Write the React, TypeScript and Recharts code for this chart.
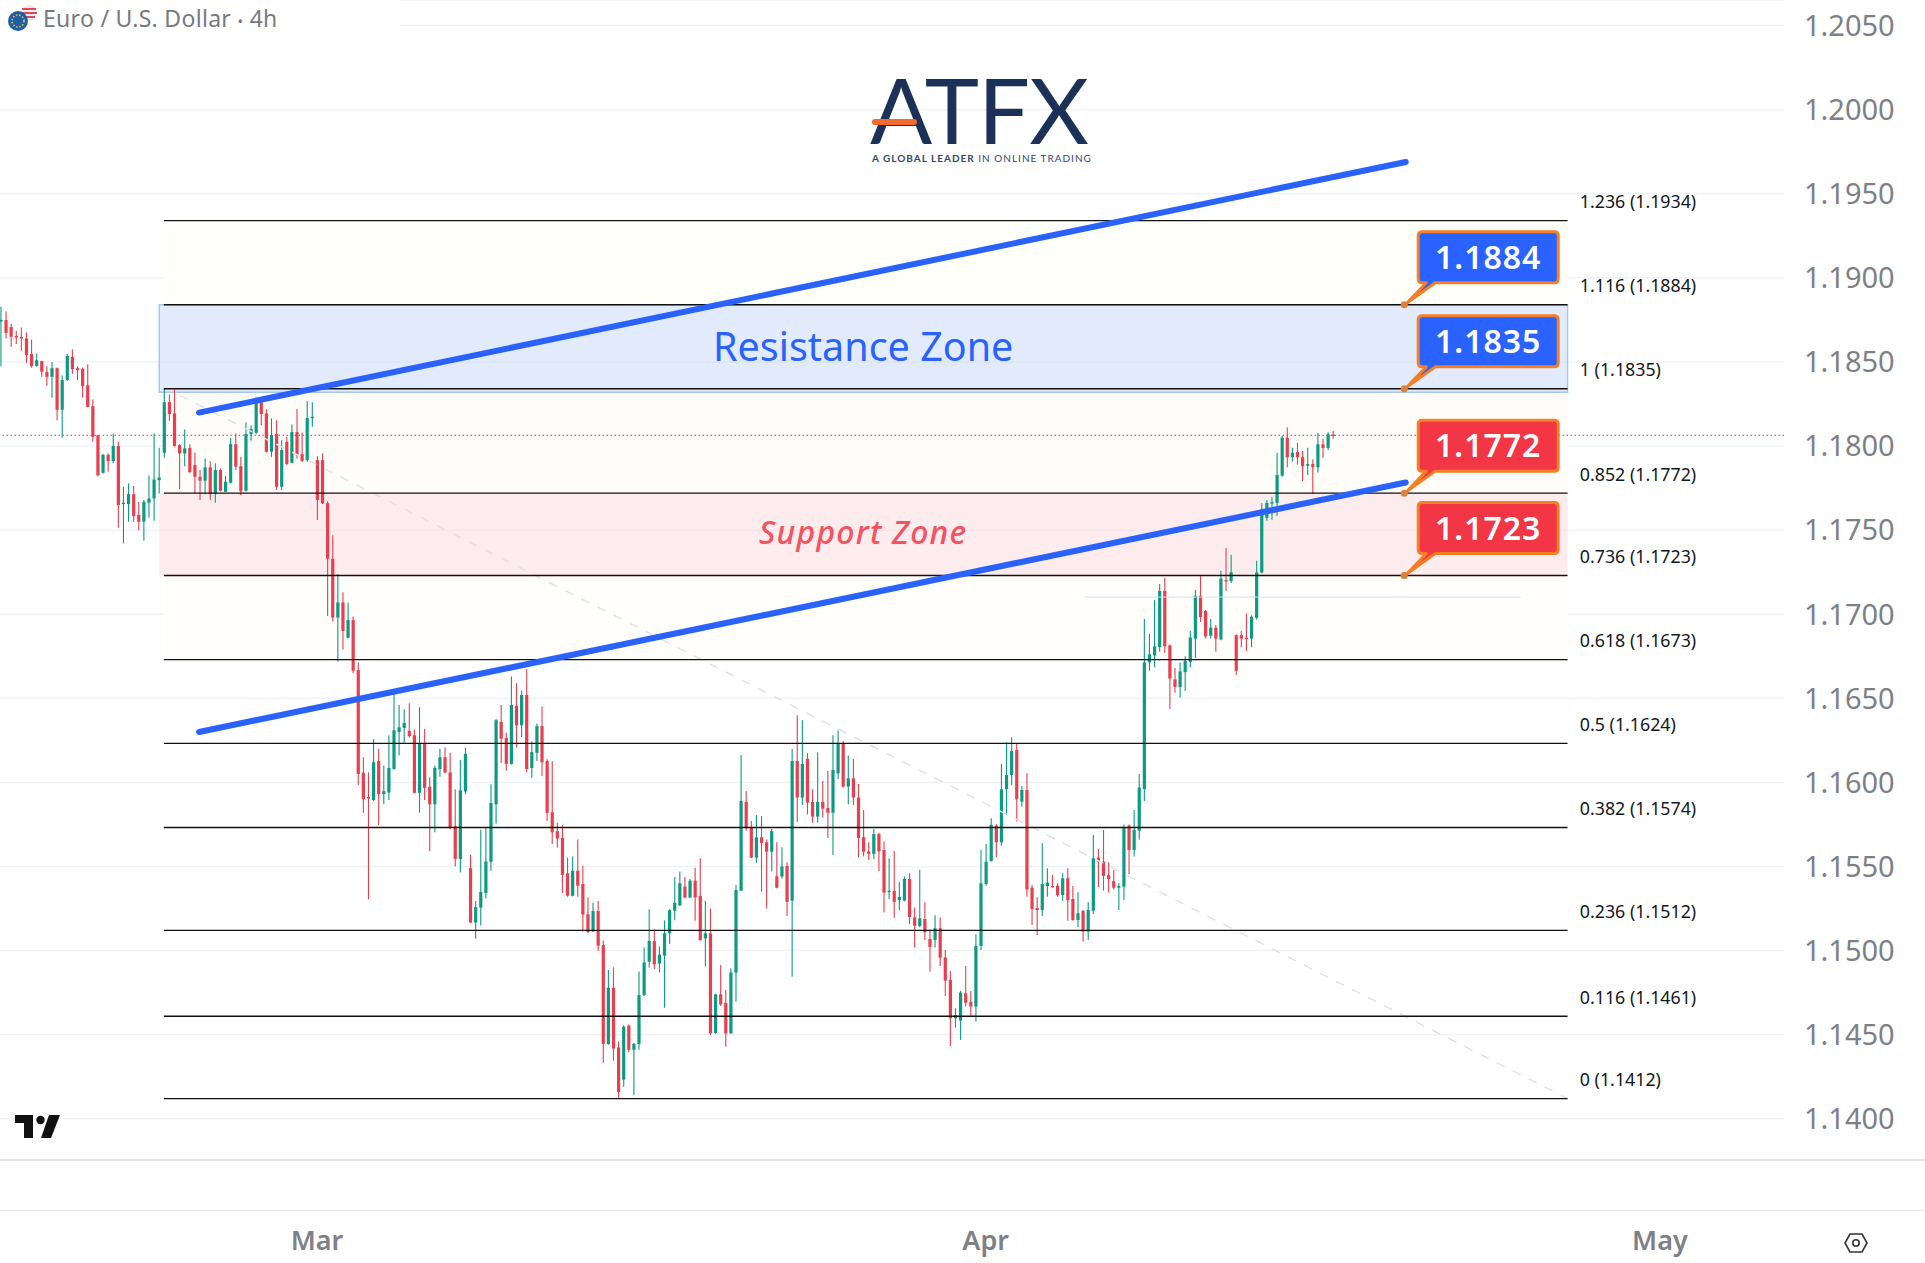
import React from 'react';
import { Bar, CartesianGrid, ComposedChart, ReferenceArea, ReferenceDot, ReferenceLine, XAxis, YAxis } from 'recharts';

// all prices below are in 1/10000 (pips)
const opens = [
  11874, 11874.9, 11870.7, 11865.4, 11864.8, 11864, 11854.7, 11847.7, 11850.5, 11844,
  11841.2, 11846.3, 11821.6, 11839.2, 11853, 11846.3, 11845.9, 11836.2, 11823.7, 11806.3,
  11784.1, 11794.8, 11791, 11800, 11765.5, 11765.5, 11771.4, 11759.1, 11755, 11766.3,
  11768.8, 11779.7, 11796, 11826.1, 11819.4, 11800.6, 11795.6, 11798.8, 11788.7, 11781.7,
  11779.4, 11787.3, 11771.4, 11785.7, 11772.8, 11778.2, 11801.1, 11788, 11773.4, 11807.1,
  11807.9, 11827.3, 11819.4, 11796.6, 11807.1, 11775.8, 11802.5, 11790, 11808.3, 11795.2,
  11791.6, 11816.6, 11791.6, 11791.6,
  11766, 11733, 11698, 11707, 11686, 11696.5, 11666.8, 11605.7, 11591.3, 11589.5,
  11612.7, 11593, 11594, 11608, 11630, 11632.4, 11630.7, 11628, 11593.8, 11623,
  11597.4, 11587, 11608, 11615, 11605.9, 11574, 11554.5, 11594.6, 11549, 11516.7,
  11525.6, 11534.3, 11552.8, 11587, 11636, 11626.5, 11611, 11645.6, 11634, 11652,
  11608.6, 11617.6, 11633.5, 11612.7, 11582.3, 11571, 11567, 11546, 11532.6, 11547.5,
  11539.6, 11521.6, 11511.4, 11523.5, 11503.3, 11444.5, 11477.9, 11442.4, 11423.3, 11455.4,
  11441, 11444.5, 11473.6, 11493.4, 11505.7, 11492.3, 11497, 11510.3, 11523.7, 11526.9,
  11538, 11531.6, 11541.6,
  11532.5, 11507.3, 11510.3, 11451, 11474, 11469, 11450.8, 11486.9, 11535.7, 11588.4,
  11573, 11555.3, 11567.4, 11564.4, 11558.8, 11544.2, 11544, 11550.3, 11529.7, 11612.7,
  11591, 11614, 11588.4, 11579.7, 11588.4, 11584.8, 11582, 11605.4, 11623, 11597.5,
  11602.4, 11591, 11567.4, 11559, 11557.5, 11569.3, 11559.8, 11535.2, 11535.5, 11530,
  11529.7, 11542.6, 11519.8, 11514.7, 11518.8, 11506.9, 11506.3, 11513.3, 11496, 11482.6,
  11459.8, 11458.4, 11474.6, 11469.5, 11466.7, 11502.8, 11539.6, 11553.3, 11574.3, 11564.4,
  11596, 11604.4, 11619.3, 11588.6, 11595.5, 11537.4, 11525.4, 11524.2, 11538.4, 11538.4,
  11538.6, 11533, 11543, 11530.7, 11518.2, 11523.6, 11511.3, 11523.8, 11555.3, 11552.9,
  11544.8, 11541.4, 11537.4, 11538, 11574.3, 11559.8, 11571.3,
  11596, 11671.3, 11675.5, 11680.4, 11713.8, 11681.5, 11661.3, 11656.8, 11665.6, 11671.7,
  11685.5, 11711, 11702, 11687.2, 11692, 11685, 11720.3, 11719.7, 11687.6, 11687.6,
  11686, 11685.5, 11697.8, 11724.8, 11757.3, 11766.2, 11766.2, 11782.4, 11805, 11793.4,
  11796.4, 11793.4, 11788.3, 11789.3, 11787.4, 11801, 11798.9, 11806.8,
];
const closes = [
  11875, 11867.3, 11865, 11865, 11864.4, 11854, 11847.5, 11851, 11844.2, 11841.2,
  11846.3, 11821.6, 11839.2, 11853.5, 11845.7, 11845.1, 11835.6, 11823.3, 11805.5, 11782.5,
  11794.8, 11791, 11800, 11764.9, 11766.3, 11771.4, 11758.3, 11755, 11766.9, 11768.8,
  11780.1, 11781.3, 11826.1, 11819, 11800, 11795.6, 11798.6, 11784.5, 11781.7, 11779.4,
  11787.3, 11771.4, 11785.7, 11773.4, 11778.8, 11801.1, 11787.7, 11773, 11807.1, 11810.1,
  11827.7, 11819, 11796.6, 11806.5, 11775.8, 11797.6, 11789.3, 11808.3, 11794.6, 11791.2,
  11816.6, 11817.4, 11767.9, 11765.9,
  11733, 11698, 11707, 11690, 11696.5, 11666.4, 11605, 11590, 11590.7, 11612,
  11593, 11594.8, 11608.6, 11631, 11632.8, 11635.4, 11627.5, 11593.8, 11623.3, 11596.8,
  11587, 11608.6, 11615, 11605.9, 11573, 11554.5, 11595.3, 11617, 11516.7, 11525.8,
  11534.8, 11553, 11587.8, 11637, 11626, 11611, 11646, 11634, 11652, 11608,
  11618, 11633.5, 11612, 11581.9, 11570.4, 11566.6, 11545, 11532.6, 11547.5, 11538.6,
  11521.4, 11511, 11523.5, 11503, 11444.5, 11477.9, 11441.8, 11415.9, 11454.7, 11441,
  11444.5, 11473.6, 11493, 11505.7, 11491.9, 11497.6, 11510.3, 11524, 11528.4, 11540,
  11531.6, 11541.6, 11531.6,
  11506.3, 11510.3, 11450.8, 11474, 11468, 11450.8, 11487, 11536, 11589, 11573.1,
  11555.3, 11567.4, 11564, 11558.8, 11571, 11537.4, 11550, 11529, 11612.7, 11591,
  11611, 11588, 11579.7, 11588.4, 11584.4, 11582, 11607.4, 11623.2, 11597.5, 11602.4,
  11591, 11567, 11558.8, 11557.5, 11569.3, 11559, 11534.5, 11535.6, 11529, 11531.9,
  11542.6, 11520, 11514.8, 11519.2, 11510.9, 11502.2, 11513.3, 11495.8, 11482.2, 11459.8,
  11461.7, 11475, 11469, 11466.7, 11502.8, 11540, 11552.9, 11574.7, 11564.4, 11595.9,
  11604.4, 11618.7, 11590, 11595.5, 11536.4, 11524.8, 11524.2, 11539.6, 11540.4, 11537.8,
  11533, 11543, 11530, 11518.2, 11522.2, 11511.3, 11524.2, 11554.9, 11552.9, 11544.4,
  11542.6, 11537.4, 11538.4, 11573.3, 11559.8, 11571.7, 11597,
  11671.3, 11676.2, 11680.9, 11713.8, 11680.9, 11661.8, 11656.8, 11666, 11672.3, 11686.2,
  11711, 11698.3, 11686.8, 11692, 11685.5, 11721.2, 11719.7, 11725, 11666.4, 11685.5,
  11685.4, 11698.5, 11724.8, 11762.4, 11766.2, 11766.6, 11782.8, 11805, 11793.4, 11796,
  11793.4, 11788, 11789.3, 11787.4, 11801, 11798.9, 11807, 11806.2,
];
const highs = [
  11882.8, 11880.2, 11872.5, 11868.5, 11870.5, 11867.5, 11863.4, 11855, 11850.7, 11847.5,
  11849.9, 11846.7, 11842, 11854.7, 11857.4, 11847.5, 11846.7, 11848.7, 11827.7, 11806.7,
  11795.2, 11795.6, 11807.5, 11802.7, 11775.8, 11777.8, 11776.2, 11766.9, 11767.9, 11782.5,
  11807.5, 11799, 11834, 11830.7, 11834, 11801, 11809.9, 11801, 11796.2, 11785.7,
  11792.6, 11791, 11789.7, 11786.7, 11782.1, 11804.9, 11807.5, 11793.6, 11814, 11812.4,
  11828.9, 11828.9, 11821.8, 11816.4, 11815.4, 11803.5, 11805.5, 11812.8, 11822, 11808,
  11826.7, 11826.1, 11794, 11795.6,
  11767, 11747, 11723.7, 11713, 11707, 11698.7, 11671.3, 11615, 11606, 11625.6,
  11620, 11610, 11628, 11654.7, 11646, 11643.5, 11647, 11631.4, 11644.7, 11631.8,
  11603, 11610, 11620, 11620.7, 11617.6, 11595.9, 11613.3, 11620.7, 11557, 11529.5,
  11571.9, 11573, 11598.9, 11637.7, 11646, 11629.7, 11663, 11659, 11654.7, 11667.4,
  11624.4, 11635, 11645.2, 11613.7, 11612.7, 11576, 11574.5, 11555.4, 11556, 11566,
  11550.3, 11531.6, 11528.4, 11529.5, 11506, 11488.5, 11490, 11446, 11455.6, 11456,
  11445, 11487.6, 11501.9, 11524.6, 11512.5, 11502.5, 11518, 11524.6, 11543.7, 11547,
  11543.7, 11542.6, 11549.2,
  11554.9, 11529.5, 11525, 11474.4, 11491.5, 11476.6, 11489.5, 11539, 11616.3, 11594.9,
  11577, 11580.6, 11580, 11566, 11572.3, 11564.4, 11561.4, 11552.5, 11619.9, 11640,
  11637, 11617.3, 11596, 11618, 11600.9, 11606.8, 11628, 11630.8, 11624.6, 11616,
  11614, 11599, 11583.6, 11564.4, 11572.3, 11570, 11564.8, 11554.9, 11559.2, 11541,
  11544, 11546, 11525.7, 11548, 11528.7, 11512.7, 11521, 11519.8, 11500.4, 11487.9,
  11465.7, 11476, 11490.9, 11476, 11509.7, 11559.8, 11563.4, 11578.7, 11575.3, 11611,
  11623.8, 11626.8, 11623.2, 11597.9, 11605.4, 11539, 11531.7, 11563.8, 11548.9, 11545,
  11540, 11546, 11549, 11538.4, 11534.7, 11524.2, 11528.7, 11568.7, 11560.4, 11571.7,
  11552.5, 11548, 11540, 11575, 11575, 11583.6, 11605,
  11697.2, 11688.3, 11708.4, 11718, 11721.6, 11682, 11668, 11671.3, 11675, 11690,
  11714.4, 11723.3, 11702.5, 11697.2, 11693.6, 11725.9, 11739.4, 11735.4, 11688, 11690,
  11700.4, 11699.3, 11731.8, 11766, 11767.9, 11769.6, 11796, 11806, 11811, 11799,
  11801.9, 11797, 11799, 11792, 11807.8, 11804.4, 11808.2, 11808.9,
];
const lows = [
  11847.5, 11864, 11859, 11860.6, 11856.6, 11849.5, 11846.5, 11847.1, 11841.2, 11835.8,
  11828.7, 11815.4, 11805, 11838.8, 11843, 11839.2, 11828.7, 11823, 11802.5, 11782.1,
  11783.7, 11784.7, 11789.7, 11751.4, 11742.1, 11755, 11755, 11750, 11743.7, 11757.4,
  11755.6, 11771.8, 11793, 11815, 11799.6, 11774.4, 11788, 11784.1, 11771.8, 11767.9,
  11771.4, 11767.9, 11766.3, 11773, 11772.6, 11777.8, 11785.7, 11770.8, 11773, 11803.1,
  11807.1, 11812.4, 11796.2, 11793.6, 11773.8, 11773.8, 11788.7, 11789.7, 11792.6, 11790.6,
  11790.6, 11811.5, 11756, 11765.5,
  11699, 11695.7, 11671.7, 11679, 11685.5, 11665, 11598.5, 11582, 11530.5, 11589,
  11574.7, 11587, 11589.5, 11607.6, 11616, 11623, 11626.7, 11593.4, 11582, 11589.5,
  11559, 11570.4, 11603.3, 11605.5, 11572, 11550, 11546.4, 11593, 11516.3, 11507,
  11515, 11531, 11547.5, 11575.5, 11611.6, 11607, 11610.6, 11620.7, 11627, 11606,
  11602.7, 11612.7, 11603.8, 11577, 11563.4, 11561.3, 11534.3, 11532, 11532.2, 11532,
  11511.4, 11510.3, 11511, 11499.7, 11433.3, 11444, 11434.6, 11411.6, 11419, 11439.6,
  11414, 11441, 11473, 11490, 11489, 11487, 11466, 11504, 11518, 11526.5,
  11531.2, 11531.2, 11517.8,
  11505.8, 11490.5, 11449.8, 11450.6, 11467, 11442.9, 11450.4, 11469.7, 11535.3, 11571.3,
  11555, 11552.3, 11535, 11525, 11547, 11537, 11542.8, 11520.6, 11484.5, 11576.5,
  11586.6, 11581, 11576, 11576, 11579, 11567, 11556.9, 11602, 11597, 11587,
  11586.6, 11555.3, 11555.9, 11553.9, 11554.3, 11547.3, 11522.6, 11530.7, 11519.6, 11524,
  11529.3, 11515.8, 11501.8, 11513.9, 11506.3, 11487.5, 11501.8, 11490.9, 11473, 11443.3,
  11454.2, 11446.9, 11466.7, 11460.8, 11457.8, 11500.4, 11538.6, 11553, 11555.3, 11562.4,
  11580.6, 11598.5, 11576.7, 11585.6, 11532, 11515.2, 11509.3, 11520.6, 11532, 11537.6,
  11532, 11529.7, 11517.8, 11517.8, 11513.9, 11505.3, 11506.3, 11521.8, 11537.6, 11535.7,
  11534.5, 11536.4, 11524.2, 11530, 11545.6, 11555.9, 11566,
  11589, 11666.4, 11668.5, 11677.7, 11677, 11643.7, 11653.3, 11650.5, 11654.3, 11668.5,
  11674, 11695.3, 11685.5, 11685.5, 11677.7, 11684.6, 11713.8, 11718.6, 11663.9, 11680.4,
  11678, 11680.4, 11696.8, 11724.4, 11755.6, 11756.2, 11758.4, 11781.7, 11787.4, 11790.6,
  11789, 11779, 11782.8, 11771.7, 11784.3, 11793, 11797.6, 11804.4,
];

const priceTicks = [1.14, 1.145, 1.15, 1.155, 1.16, 1.165, 1.17, 1.175, 1.18, 1.185, 1.19, 1.195, 1.2, 1.205];
const monthTicks = [61.9, 192.9, 325];
const monthNames = ['Mar', 'Apr', 'May'];

const fibLabels = ['0 (1.1412)', '0.116 (1.1461)', '0.236 (1.1512)', '0.382 (1.1574)', '0.5 (1.1624)', '0.618 (1.1673)', '0.736 (1.1723)', '0.852 (1.1772)', '1 (1.1835)', '1.116 (1.1884)', '1.236 (1.1934)'];
const fibPrices = [1.1412, 1.1461, 1.1512, 1.15732, 1.16232, 1.1673, 1.1723, 1.1772, 1.18341, 1.1884, 1.1934];
const calloutPrices = [1.1884, 1.1834, 1.1772, 1.1723];
const calloutLabels = ['1.1884', '1.1835', '1.1772', '1.1723'];
const calloutColors = ['#2962ff', '#2962ff', '#f23645', '#f23645'];

const candles = opens.map((open, i) => ({
  i,
  open: open / 10000,
  close: closes[i] / 10000,
  high: highs[i] / 10000,
  low: lows[i] / 10000,
  range: [lows[i] / 10000, highs[i] / 10000],
}));

const GREEN = '#0c9a83';
const RED = '#ea3d4e';
const BLUE = '#2962ff';
const FONT = '"Noto Sans", sans-serif';

const FIB_X1 = 31.9;
const FIB_X2 = 306.9;
const ZONE_X1 = 31.0;
const LABEL_X = 309.3;
const CALLOUT_X = 274.9;

function Candle(props: any) {
  const { x, y, width, height, payload } = props;
  const top = Math.min(y, y + height);
  const h = Math.abs(height);
  const span = payload.high - payload.low || 1;
  const at = (v: number) => top + ((payload.high - v) / span) * h;
  const color = payload.close >= payload.open ? GREEN : RED;
  const bodyTop = at(Math.max(payload.open, payload.close));
  const bodyH = Math.max(at(Math.min(payload.open, payload.close)) - bodyTop, 1.4);
  const cx = x + width / 2;
  return (
    <g>
      <line x1={cx} x2={cx} y1={top} y2={top + h} stroke={color} strokeWidth={1.1} />
      <rect x={cx - 1.6} y={bodyTop} width={3.2} height={bodyH} fill={color} />
    </g>
  );
}

function Callout({ cx, cy, color, text }: any) {
  const l = cx + 14;
  const r = cx + 154;
  const t = cy - 73;
  const b = cy - 22;
  const path = `M ${l + 4} ${t} H ${r - 4} Q ${r} ${t} ${r} ${t + 4} V ${b - 4} Q ${r} ${b} ${r - 4} ${b} H ${cx + 31} L ${cx + 3} ${cy - 2} L ${l + 8} ${b} H ${l + 4} Q ${l} ${b} ${l} ${b - 4} V ${t + 4} Q ${l} ${t} ${l + 4} ${t} Z`;
  return (
    <g>
      <path d={path} fill={color} stroke="#f57f25" strokeWidth={3} strokeLinejoin="round" />
      <circle cx={cx} cy={cy} r={3.5} fill="#e0813a" />
      <text x={(l + r) / 2} y={(t + b) / 2 + 11.5} textAnchor="middle" fill="#fff" fontFamily={FONT} fontSize={32} fontWeight={600} letterSpacing={1}>
        {text}
      </text>
    </g>
  );
}

export default function App() {
  return (
    <div style={{ position: 'absolute', left: 0, top: 0, width: 1925, height: 1263, background: '#fff', overflow: 'hidden' }}>
      <ComposedChart
        width={1925}
        height={1263}
        data={candles}
        margin={{ top: 0, right: 0, bottom: 0, left: 0 }}
      >
        <CartesianGrid horizontal vertical={false} stroke="#f0f3f6" strokeWidth={1.5} />
        <XAxis
          dataKey="i"
          type="number"
          domain={[-0.196, 349.3]}
          allowDataOverflow
          ticks={monthTicks}
          interval={0}
          height={103}
          tickLine={false}
          axisLine={false}
          tickMargin={65}
          tick={{ fill: '#7e8088', fontSize: 27, fontFamily: FONT, fontWeight: 600 }}
          tickFormatter={(v: number) => monthNames[monthTicks.indexOf(v)]}
        />
        <YAxis
          orientation="right"
          width={141}
          domain={[1.13755, 1.20652]}
          allowDataOverflow
          ticks={priceTicks}
          interval={0}
          tickLine={false}
          axisLine={false}
          tickMargin={14}
          tick={{ fill: '#7e8088', fontSize: 29, fontFamily: FONT }}
          tickFormatter={(v: number) => v.toFixed(4)}
        />

        <ReferenceArea x1={FIB_X1} x2={FIB_X2} y1={1.1884} y2={1.1934} fill="#fffffa" fillOpacity={1} stroke="none" />
        <ReferenceArea x1={FIB_X1} x2={FIB_X2} y1={1.1772} y2={1.1835} fill="#fffdf9" fillOpacity={1} stroke="none" />
        <ReferenceArea x1={FIB_X1} x2={FIB_X2} y1={1.1673} y2={1.1723} fill="#fffefa" fillOpacity={1} stroke="none" />
        <ReferenceArea x1={ZONE_X1} x2={FIB_X2} y1={1.1723} y2={1.1772} fill="#fcd9db" fillOpacity={0.5} stroke="none" />
        <ReferenceArea x1={ZONE_X1} x2={FIB_X2} y1={1.1832} y2={1.1884} fill="#c6d8f8" fillOpacity={0.5} stroke="#a5c9e8" strokeWidth={1.5} />

        <Bar dataKey="range" barSize={3} shape={<Candle />} isAnimationActive={false} />

        <ReferenceLine segment={[{ x: FIB_X1, y: 1.1835 }, { x: FIB_X2, y: 1.1412 }]} stroke="#e2e2e2" strokeWidth={1.5} strokeDasharray="9 9" />
        <ReferenceLine y={1.18064} stroke="#c9394e" strokeWidth={1} strokeDasharray="1.5 2.5" />
        <ReferenceLine segment={[{ x: 212.3, y: 1.17102 }, { x: 297.7, y: 1.17102 }]} stroke="#d8dff5" strokeWidth={1} />

        {fibPrices.map((p) => (
          <ReferenceLine key={p} segment={[{ x: FIB_X1, y: p }, { x: FIB_X2, y: p }]} stroke="#111" strokeWidth={1.4} />
        ))}

        <ReferenceLine segment={[{ x: 38.8, y: 1.18199 }, { x: 275.2, y: 1.19689 }]} stroke={BLUE} strokeWidth={6} strokeLinecap="round" />
        <ReferenceLine segment={[{ x: 38.8, y: 1.163 }, { x: 275.2, y: 1.17783 }]} stroke={BLUE} strokeWidth={6} strokeLinecap="round" />

        {fibPrices.map((p, k) => (
          <ReferenceDot
            key={p}
            x={LABEL_X}
            y={p}
            r={0}
            shape={(d: any) => (
              <text x={d.cx} y={d.cy - 12.5} fill="#131722" fontFamily={FONT} fontSize={17.8}>
                {fibLabels[k]}
              </text>
            )}
          />
        ))}

        <ReferenceDot
          x={168.9}
          y={1.18589}
          r={0}
          shape={(d: any) => (
            <text x={d.cx} y={d.cy + 14} textAnchor="middle" fill={BLUE} fontFamily={FONT} fontSize={39.5}>
              Resistance Zone
            </text>
          )}
        />
        <ReferenceDot
          x={168.9}
          y={1.1748}
          r={0}
          shape={(d: any) => (
            <text x={d.cx} y={d.cy + 11} textAnchor="middle" fill="#f2535f" fontFamily={FONT} fontSize={32} fontStyle="italic" fontWeight={500} letterSpacing={1.2}>
              Support Zone
            </text>
          )}
        />

        {calloutPrices.map((p, k) => (
          <ReferenceDot
            key={p}
            x={CALLOUT_X}
            y={p}
            r={0}
            shape={(d: any) => <Callout cx={d.cx} cy={d.cy} color={calloutColors[k]} text={calloutLabels[k]} />}
          />
        ))}
      </ComposedChart>

      {/* header */}
      <div style={{ position: 'absolute', left: 0, top: 0, width: 400, height: 40, background: '#fff' }} />
      <svg style={{ position: 'absolute', left: 8, top: 4 }} width={32} height={32}>
        <circle cx={21} cy={9} r={8} fill="#e9eef5" />
        <path d="M14 5 H28 M14 9 H29 M15 13 H27" stroke="#e4494e" strokeWidth={2} />
        <circle cx={10} cy={17} r={10} fill="#1f5fa6" />
        <circle cx={10} cy={17} r={6} fill="none" stroke="#f2c63a" strokeWidth={1.6} strokeDasharray="1.4 1.8" />
      </svg>
      <div style={{ position: 'absolute', left: 43, top: 2, fontFamily: FONT, fontSize: 23, color: '#77797f', whiteSpace: 'nowrap', letterSpacing: 0.3 }}>
        Euro / U.S. Dollar <span style={{ fontSize: 15 }}>•</span> 4h
      </div>

      {/* ATFX logo */}
      <div style={{ position: 'absolute', left: 870, top: 69, fontFamily: 'Lato, sans-serif', fontSize: 92, fontWeight: 400, lineHeight: '80px', color: '#1b3157', letterSpacing: -1, whiteSpace: 'nowrap' }}>
        ATFX
      </div>
      <div style={{ position: 'absolute', left: 872, top: 119, width: 45, height: 6, borderRadius: 3, background: '#f26a2e' }} />
      <div style={{ position: 'absolute', left: 872, top: 151, fontFamily: 'Lato, sans-serif', fontSize: 10, lineHeight: '14px', color: '#33466b', letterSpacing: 1, whiteSpace: 'nowrap' }}>
        <b>A GLOBAL LEADER</b> IN ONLINE TRADING
      </div>

      {/* TradingView mark */}
      <svg style={{ position: 'absolute', left: 0, top: 1100 }} width={80} height={50}>
        <path d="M15 15 H33 V38 H24 V23 H15 Z" fill="#111" />
        <circle cx={40.5} cy={20} r={4.2} fill="#111" />
        <path d="M49 15 H60 L51 38 H41 Z" fill="#111" />
      </svg>

      {/* axis rules and settings icon */}
      <div style={{ position: 'absolute', left: 0, top: 1159, width: 1925, height: 2, background: '#e2e3e6' }} />
      <div style={{ position: 'absolute', left: 0, top: 1210, width: 1925, height: 1, background: '#e6e6e8' }} />
      <svg style={{ position: 'absolute', left: 1844, top: 1231 }} width={24} height={24}>
        <path d="M6 3 H18 L23 12 L18 21 H6 L1 12 Z" fill="none" stroke="#333" strokeWidth={1.6} />
        <circle cx={12} cy={12} r={3.2} fill="none" stroke="#333" strokeWidth={1.6} />
      </svg>
    </div>
  );
}
